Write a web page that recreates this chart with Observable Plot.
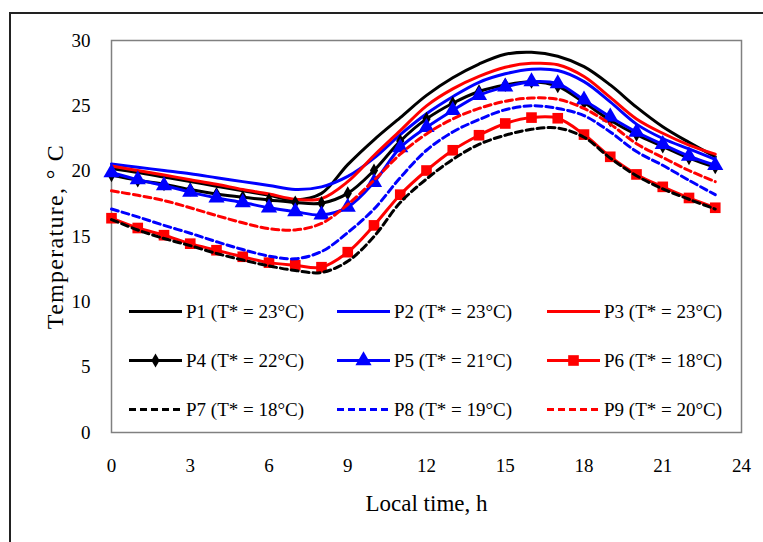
<!DOCTYPE html>
<html><head><meta charset="utf-8">
<script src="https://cdn.jsdelivr.net/npm/d3@7"></script>
<script src="https://cdn.jsdelivr.net/npm/@observablehq/plot@0.6"></script>
<style>
html,body{margin:0;padding:0;background:#fff;overflow:hidden;width:763px;height:542px;}
#wrap{position:relative;width:763px;height:542px;overflow:hidden;}
#frame{position:absolute;left:9px;top:12px;width:820px;height:620px;border:2px solid #222;box-sizing:border-box;}
#chart{position:absolute;left:0;top:0;}
#legend{position:absolute;left:0;top:0;}
</style></head><body>
<div id="wrap"><div id="frame"></div><div id="chart"></div><svg id="legend" width="763" height="542"></svg></div>
<script>
const hours = [0,1,2,3,4,5,6,7,8,9,10,11,12,13,14,15,16,17,18,19,20,21,22,23];
const p1 = [20.2,19.9,19.55,19.2,18.85,18.5,18.15,17.8,18.3,20.5,22.4,24.1,25.8,27.15,28.2,28.95,29.1,28.8,28.0,26.6,24.9,23.4,22.2,21.1];
const p2 = [20.55,20.3,20.05,19.8,19.5,19.2,18.9,18.6,18.8,19.6,21.0,22.8,24.4,25.7,26.8,27.45,27.8,27.7,26.85,25.3,23.6,22.5,21.7,20.9];
const p3 = [20.4,20.05,19.7,19.35,19.0,18.6,18.25,17.85,17.9,19.2,21.2,23.1,25.0,26.3,27.25,27.95,28.25,28.15,27.25,25.65,24.0,22.9,22.0,21.3];
const p4 = [19.7,19.3,19.0,18.6,18.25,18.0,17.8,17.6,17.55,18.3,20.05,22.3,24.0,25.2,26.1,26.6,26.85,26.5,25.25,23.9,22.8,21.9,21.0,20.3];
const p5 = [19.9,19.35,18.9,18.4,17.95,17.6,17.2,16.9,16.65,17.25,19.15,21.8,23.35,24.65,25.8,26.45,26.85,26.7,25.45,24.15,23.0,22.05,21.15,20.45];
const p6 = [16.4,15.65,15.1,14.45,13.95,13.45,13.0,12.8,12.65,13.8,15.85,18.2,20.05,21.6,22.75,23.65,24.1,24.05,22.8,21.1,19.75,18.8,17.95,17.2];
const p7 = [16.3,15.5,14.85,14.3,13.7,13.2,12.75,12.4,12.25,13.1,15.0,17.6,19.4,20.9,22.05,22.75,23.2,23.3,22.6,21.0,19.65,18.65,17.85,17.1];
const p8 = [17.1,16.5,15.85,15.25,14.6,14.0,13.5,13.3,13.85,15.3,17.1,19.5,21.6,23.0,23.95,24.7,25.0,24.8,24.25,23.0,21.5,20.45,19.3,18.2];
const p9 = [18.5,18.15,17.75,17.2,16.6,16.05,15.6,15.5,16.0,17.45,19.3,21.3,22.85,24.0,24.8,25.35,25.6,25.5,24.8,23.6,22.1,21.05,20.05,19.2];
const seriesNames = ["P1","P2","P3","P4","P5","P6","P7","P8","P9"];
const seriesLabels = ["P1 (T* = 23°C)","P2 (T* = 23°C)","P3 (T* = 23°C)","P4 (T* = 22°C)","P5 (T* = 21°C)","P6 (T* = 18°C)","P7 (T* = 18°C)","P8 (T* = 19°C)","P9 (T* = 20°C)"];
const seriesValues = [p1,p2,p3,p4,p5,p6,p7,p8,p9];
const seriesColors = ["#000000","#0000ff","#ff0000","#000000","#0000ff","#ff0000","#000000","#0000ff","#ff0000"];
const seriesDash = [null,null,null,null,null,null,"7,4","7,4","7,4"];
const seriesSymbol = [null,null,null,"diamond","triangle","square",null,null,null];
const xTicks = [0,3,6,9,12,15,18,21,24];
const yTicks = [0,5,10,15,20,25,30];
const xTitle = "Local time, h";
const yTitle = "Temperature, ° C";

const table = [];
seriesNames.forEach((s,i)=>hours.forEach((h,j)=>table.push({series:s, hour:h, temp:seriesValues[i][j]})));

const symR = {diamond:4.3, triangle:6.0, square:6.0};
const marks = [
  Plot.frame({stroke:"#808080", strokeWidth:1.5}),
  Plot.axisX({ticks:xTicks, tickSize:0, tickPadding:26, label:null, fontSize:19}),
  Plot.axisY({ticks:yTicks, tickSize:0, tickPadding:21, label:null, fontSize:19}),
  Plot.text([xTitle], {frameAnchor:"bottom", dy:71, fontSize:23, lineAnchor:"middle", textAnchor:"middle"}),
  Plot.text([yTitle], {frameAnchor:"left", dx:-56, rotate:-90, fontSize:24, lineAnchor:"middle", textAnchor:"middle", className:"ytitle"})
];
seriesNames.forEach((s,i)=>{
  const d = table.filter(r=>r.series===s);
  marks.push(Plot.line(d, {x:"hour", y:"temp", stroke:seriesColors[i], strokeWidth:3, strokeDasharray:seriesDash[i]||undefined, curve:"catmull-rom"}));
  if (seriesSymbol[i]) marks.push(Plot.dot(d, {x:"hour", y:"temp", symbol:seriesSymbol[i], fill:seriesColors[i], stroke:"none", r:symR[seriesSymbol[i]]}));
});

const chart = Plot.plot({
  width:763, height:542,
  marginLeft:111, marginRight:22, marginTop:40, marginBottom:110,
  style:{fontFamily:"'Liberation Serif', 'Times New Roman', serif", fontSize:"19px", color:"#000", background:"transparent", overflow:"visible"},
  x:{domain:[0,24]},
  y:{domain:[0,30]},
  marks
});
d3.select(chart).selectAll(".ytitle text").style("letter-spacing","1.3px");
document.getElementById("chart").appendChild(chart);

// legend overlay
const lg = d3.select("#legend");
const rowY = [311.5, 360.5, 409.5];
const colX = [129, 337, 547];
const lineLen = 53;
seriesNames.forEach((s,i)=>{
  const r = Math.floor(i/3), c = i%3;
  const y = rowY[r], x0 = colX[c];
  lg.append("line").attr("x1",x0).attr("x2",x0+lineLen).attr("y1",y).attr("y2",y)
    .attr("stroke",seriesColors[i]).attr("stroke-width",3)
    .attr("stroke-dasharray",seriesDash[i]||null);
  if (seriesSymbol[i]) {
    const t = {diamond:d3.symbolDiamond, triangle:d3.symbolTriangle, square:d3.symbolSquare}[seriesSymbol[i]];
    const rr = symR[seriesSymbol[i]];
    lg.append("path").attr("d", d3.symbol(t, Math.PI*rr*rr)()).attr("transform",`translate(${x0+lineLen/2},${y})`).attr("fill",seriesColors[i]);
  }
  lg.append("text").attr("x",x0+lineLen+4).attr("y",y).attr("dy","0.35em")
    .attr("font-family","'Liberation Serif', 'Times New Roman', serif").attr("font-size",19).text(seriesLabels[i]);
});
</script></body></html>
